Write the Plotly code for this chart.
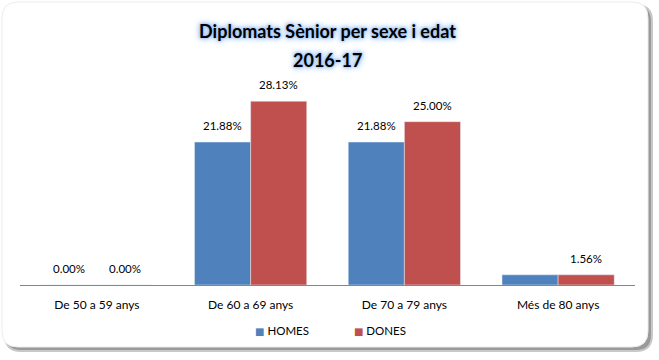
import plotly.graph_objects as go

categories = ["De 50 a 59 anys", "De 60 a 69 anys", "De 70 a 79 anys", "Més de 80 anys"]
homes = [0.00, 21.88, 21.88, 1.56]
dones = [0.00, 28.13, 25.00, 1.56]
homes_labels = ["0.00%", "21.88%", "21.88%", ""]
dones_labels = ["0.00%", "28.13%", "25.00%", "1.56%"]
title_lines = ["Diplomats Sènior per sexe i edat", "2016-17"]

W, H = 659, 360
ML, MR, MT, MB = 20, 24, 89, 75
PW, PH = W - ML - MR, H - MT - MB

def px_x(x):
    return (x - ML) / PW

def px_y(y):
    return (H - MB - y) / PH

def rounded_path(x0, y0, x1, y1, r):
    def P(x, y):
        return f"{px_x(x):.5f},{px_y(y):.5f}"
    return (f"M {P(x0 + r, y0)} L {P(x1 - r, y0)} Q {P(x1, y0)} {P(x1, y0 + r)} "
            f"L {P(x1, y1 - r)} Q {P(x1, y1)} {P(x1 - r, y1)} L {P(x0 + r, y1)} "
            f"Q {P(x0, y1)} {P(x0, y1 - r)} L {P(x0, y0 + r)} Q {P(x0, y0)} {P(x0 + r, y0)} Z")

BLUE = "#4F81BD"
RED = "#C0504D"
FONT = "Lato"
GLOW = "0 0 2px #9cc2f2, 0 0 3px #9cc2f2, 0 0 5px #a6c8f4, 0 0 7px #b4d0f6, 0 0 9px #c8dcf8"
TITLE_FONT = dict(family=FONT, size=18, color="#000000", weight="bold", shadow=GLOW)

fig = go.Figure()
fig.add_trace(go.Bar(name="HOMES", x=categories, y=homes, marker_color=BLUE, showlegend=False))
fig.add_trace(go.Bar(name="DONES", x=categories, y=dones, marker_color=RED, showlegend=False))
# legend entries: coloured square glyph placed right next to the name
for nm, col in (("HOMES", BLUE), ("DONES", RED)):
    fig.add_trace(go.Scatter(
        name=f"<span style='color:{col};font-family:DejaVu Sans;font-size:10px'>■</span> {nm}",
        x=[None], y=[None], mode="markers",
        marker=dict(symbol="square", size=1, color="rgba(0,0,0,0)")))

annotations = []
BAR_OFF = 28
for cat, v, t in zip(categories, homes, homes_labels):
    if t:
        annotations.append(dict(x=cat, y=v, xref="x", yref="y", text=t, showarrow=False,
                                xshift=-BAR_OFF, yshift=8, yanchor="bottom",
                                font=dict(size=11.5, family=FONT, color="#000000")))
for cat, v, t in zip(categories, dones, dones_labels):
    if t:
        annotations.append(dict(x=cat, y=v, xref="x", yref="y", text=t, showarrow=False,
                                xshift=BAR_OFF, yshift=8, yanchor="bottom",
                                font=dict(size=11.5, family=FONT, color="#000000")))
# second title line
annotations.append(dict(x=0.5, y=px_y(60), xref="paper", yref="paper", text=title_lines[1],
                        showarrow=False, xanchor="center", yanchor="middle", font=TITLE_FONT))

shapes = [
    dict(type="path", xref="paper", yref="paper", layer="below",
         path=rounded_path(5, 5, 652, 351, 16), fillcolor="#9a9a9a",
         line=dict(color="#c8c8c8", width=2)),
    dict(type="path", xref="paper", yref="paper", layer="below",
         path=rounded_path(2, 2, 648, 347, 16), fillcolor="#ffffff",
         line=dict(color="#ececec", width=1)),
]

fig.update_layout(
    width=W, height=H,
    margin=dict(l=ML, r=MR, t=MT, b=MB),
    paper_bgcolor="#ffffff",
    plot_bgcolor="rgba(0,0,0,0)",
    barmode="group",
    bargap=0.27,
    bargroupgap=0,
    title=dict(
        text=title_lines[0],
        x=0.5, xanchor="center", xref="paper",
        y=1 - 32 / H, yanchor="middle",
        font=TITLE_FONT,
    ),
    font=dict(family=FONT, size=11, color="#000000"),
    xaxis=dict(showline=True, linecolor="#868686", linewidth=1, ticks="",
               tickfont=dict(size=12, family=FONT), showgrid=False,
               ticklabelstandoff=9),
    yaxis=dict(range=[0, 30], visible=False, showgrid=False),
    legend=dict(orientation="h", x=px_x(313), xanchor="center", y=px_y(330), yanchor="middle",
                font=dict(size=11.5, family=FONT), itemwidth=30, bgcolor="rgba(0,0,0,0)"),
    shapes=shapes,
    annotations=annotations,
)

fig.write_html("out.html", config={"displayModeBar": False},
               post_script="document.body.style.margin='0';")
